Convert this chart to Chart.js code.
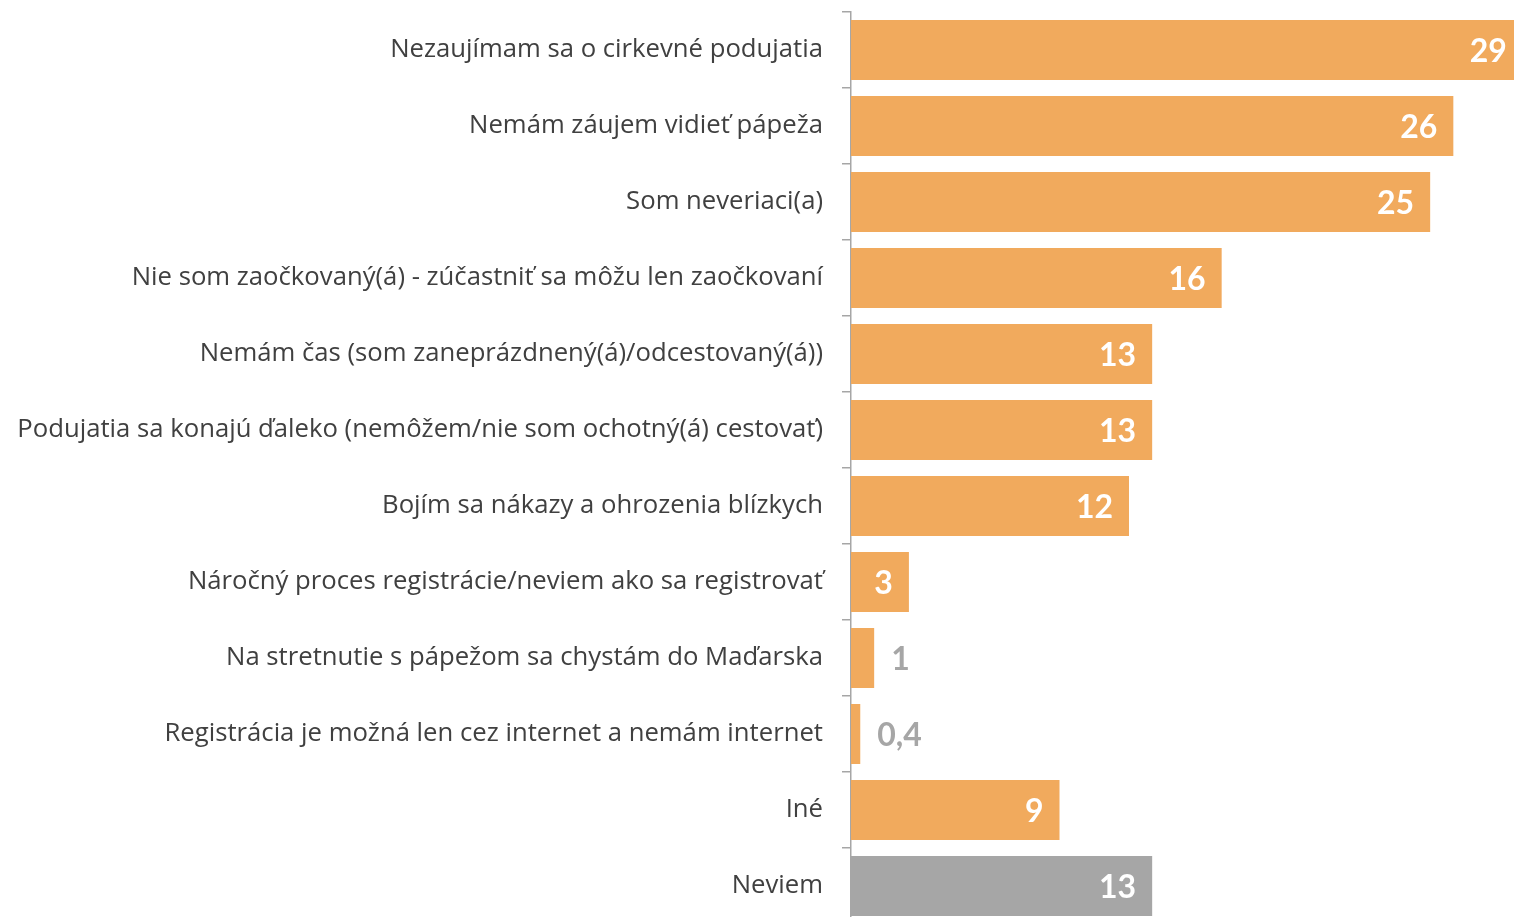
<!DOCTYPE html>
<html>
<head>
<meta charset="utf-8">
<script src="https://cdn.jsdelivr.net/npm/chart.js@4.4.0/dist/chart.umd.min.js"></script>
<style>
  html, body { margin: 0; padding: 0; overflow: hidden; background: #ffffff; }
  #wrap { position: relative; width: 1600px; height: 930px; }
</style>
</head>
<body>
<div id="wrap"><canvas id="c"></canvas></div>
<script>
const categories = [
  "Nezaujímam sa o cirkevné podujatia",
  "Nemám záujem vidieť pápeža",
  "Som neveriaci(a)",
  "Nie som zaočkovaný(á) - zúčastniť sa môžu len zaočkovaní",
  "Nemám čas (som zaneprázdnený(á)/odcestovaný(á))",
  "Podujatia sa konajú ďaleko (nemôžem/nie som ochotný(á) cestovať)",
  "Bojím sa nákazy a ohrozenia blízkych",
  "Náročný proces registrácie/neviem ako sa registrovať",
  "Na stretnutie s pápežom sa chystám do Maďarska",
  "Registrácia je možná len cez internet a nemám internet",
  "Iné",
  "Neviem"
];
const values = [29, 26, 25, 16, 13, 13, 12, 2.5, 1, 0.4, 9, 13];
const valueLabels = ["29", "26", "25", "16", "13", "13", "12", "3", "1", "0,4", "9", "13"];
const barColors = ["#F1AA5D","#F1AA5D","#F1AA5D","#F1AA5D","#F1AA5D","#F1AA5D","#F1AA5D","#F1AA5D","#F1AA5D","#F1AA5D","#F1AA5D","#A6A6A6"];
const outsideLabel = [false,false,false,false,false,false,false,false,true,true,false,false];

const labelPlugin = {
  id: 'valueLabels',
  afterDatasetsDraw(chart) {
    const ctx = chart.ctx;
    const meta = chart.getDatasetMeta(0);
    ctx.save();
    ctx.font = 'bold 32px Lato, "Open Sans", sans-serif';
    ctx.textBaseline = 'middle';
    meta.data.forEach((bar, i) => {
      const txt = valueLabels[i];
      if (outsideLabel[i]) {
        ctx.fillStyle = '#A6A6A6';
        ctx.textAlign = 'left';
        ctx.fillText(txt, bar.x + 17, bar.y + 2);
      } else {
        ctx.fillStyle = '#FFFFFF';
        ctx.textAlign = 'right';
        ctx.fillText(txt, bar.x - 16, bar.y + 2);
      }
    });
    ctx.restore();
  }
};

new Chart(document.getElementById('c'), {
  type: 'bar',
  data: {
    labels: categories,
    datasets: [{
      data: values,
      backgroundColor: barColors,
      borderWidth: 0,
      barPercentage: 0.79,
      categoryPercentage: 1.0
    }]
  },
  options: {
    indexAxis: 'y',
    responsive: true,
    maintainAspectRatio: false,
    animation: false,
    layout: { padding: { top: 12, bottom: 6, left: 1, right: 54 } },
    plugins: { legend: { display: false }, tooltip: { enabled: false } },
    scales: {
      x: { display: false, min: 0, max: 30 },
      y: {
        afterFit(scale) { scale.width = 850; scale.paddingTop = 0; scale.paddingBottom = 0; },
        border: { display: true, color: '#A6A6A6', width: 1.5 },
        grid: { offset: true, drawOnChartArea: false, drawTicks: true, tickLength: 9, color: '#A6A6A6', lineWidth: 1.5 },
        ticks: { color: '#404040', padding: 19, font: { family: '"Open Sans", Lato, sans-serif', size: 25.7 } }
      }
    }
  },
  plugins: [labelPlugin]
});
</script>
</body>
</html>
